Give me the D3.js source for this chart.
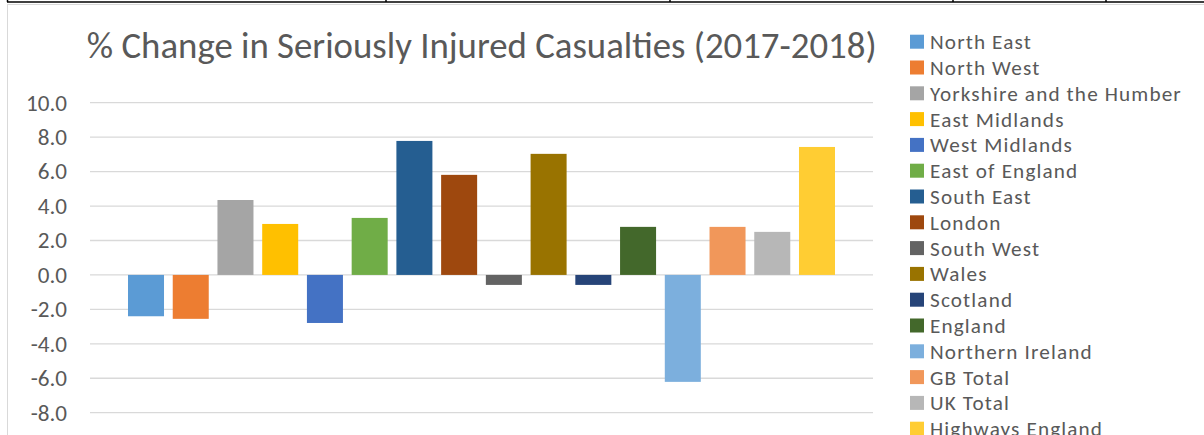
<!DOCTYPE html>
<html>
<head>
<meta charset="utf-8">
<script src="https://cdn.jsdelivr.net/npm/d3@7"></script>
<style>
  html, body { margin: 0; padding: 0; background: #ffffff; }
  svg { display: block; }
  text { font-family: Carlito, Lato, "Open Sans", sans-serif; fill: #595959; }
</style>
</head>
<body>
<svg id="chart" width="1204" height="435"></svg>
<script>
const title = "% Change in Seriously Injured Casualties (2017-2018)";
const seriesNames = [
  "North East", "North West", "Yorkshire and the Humber", "East Midlands",
  "West Midlands", "East of England", "South East", "London",
  "South West", "Wales", "Scotland", "England",
  "Northern Ireland", "GB Total", "UK Total", "Highways England"
];
const seriesValues = [
  -2.4, -2.55, 4.35, 2.96,
  -2.79, 3.31, 7.78, 5.81,
  -0.58, 7.03, -0.58, 2.79,
  -6.21, 2.79, 2.5, 7.43
];
const seriesColors = [
  "#5B9BD5", "#ED7D31", "#A5A5A5", "#FFC000",
  "#4472C4", "#70AD47", "#255E91", "#9E480E",
  "#636363", "#997300", "#264478", "#43682B",
  "#7CAFDD", "#F1975A", "#B7B7B7", "#FFCD33"
];
const yTicks = [-8, -6, -4, -2, 0, 2, 4, 6, 8, 10];

const svg = d3.select("#chart");

// page table border remnants at the top
const topLineY = 2;
svg.append("line").attr("x1", 7).attr("x2", 1204).attr("y1", topLineY).attr("y2", topLineY)
  .attr("stroke", "#000").attr("stroke-width", 1.5);
[7.5, 386, 670, 953, 1106].forEach(x => {
  svg.append("line").attr("x1", x).attr("x2", x).attr("y1", 0).attr("y2", topLineY)
    .attr("stroke", "#000").attr("stroke-width", 1.5);
});

// chart frame
svg.append("rect").attr("x", 7.5).attr("y", 4.5).attr("width", 1300).attr("height", 500)
  .attr("fill", "#fff").attr("stroke", "#d9d9d9").attr("stroke-width", 1);

// plot geometry
const plotLeft = 90, plotRight = 873;
const y = d3.scaleLinear().domain([-8, 10]).range([412.7, 102.7]);
const x = d3.scaleBand().domain(seriesNames).range([128, 835]).paddingInner(0.195).paddingOuter(0);

// gridlines
svg.append("g").selectAll("line").data(yTicks).join("line")
  .attr("x1", plotLeft).attr("x2", plotRight)
  .attr("y1", d => y(d)).attr("y2", d => y(d))
  .attr("stroke", "#d9d9d9").attr("stroke-width", 1.3);

// y axis labels via d3 axis (hyphen-minus like the reference)
const fmt = d => d.toFixed(1);
const yAxis = d3.axisLeft(y).tickValues(yTicks).tickFormat(fmt).tickSize(0).tickPadding(0);
const yAxisG = svg.append("g").attr("transform", "translate(67,0)").call(yAxis);
yAxisG.select(".domain").remove();
yAxisG.selectAll("text").attr("font-family", null).style("fill", "#595959")
  .attr("font-size", 20);

// fit helpers
function fitSize(sel, target) {
  const node = sel.node();
  const fs = parseFloat(sel.attr("font-size"));
  const w = node.getComputedTextLength();
  return fs * target / w;
}
const tickRef = yAxisG.selectAll("text").filter(d => d === 10);
const tickSize = fitSize(tickRef, 41);
yAxisG.selectAll("text").attr("font-size", tickSize);

// bars
svg.append("g").selectAll("rect").data(seriesNames).join("rect")
  .attr("x", d => x(d))
  .attr("width", x.bandwidth())
  .attr("y", (d, i) => Math.min(y(0), y(seriesValues[i])))
  .attr("height", (d, i) => Math.abs(y(seriesValues[i]) - y(0)))
  .attr("fill", (d, i) => seriesColors[i]);

// title
const t = svg.append("text").text(title)
  .attr("x", 481.7).attr("y", 58).attr("text-anchor", "middle").attr("font-size", 30);
t.attr("font-size", fitSize(t, 790));

// legend
const legendTop = 41.7, legendStep = 25.8;
const lg = svg.append("g");
const items = lg.selectAll("g").data(seriesNames).join("g")
  .attr("transform", (d, i) => `translate(910,${legendTop + i * legendStep})`);
items.append("rect").attr("x", 0).attr("y", -7).attr("width", 14).attr("height", 14)
  .attr("fill", (d, i) => seriesColors[i]);
const lt = items.append("text").text(d => d).attr("x", 20).attr("y", 0)
  .attr("dy", "0.35em").attr("font-size", 21.2);
const ref = lt.filter(d => d === "Yorkshire and the Humber");
const refLen = ref.node().getComputedTextLength();
const spacing = Math.max(0, (252 - refLen) / ("Yorkshire and the Humber".length));
lt.style("letter-spacing", spacing.toFixed(2) + "px");
</script>
</body>
</html>
